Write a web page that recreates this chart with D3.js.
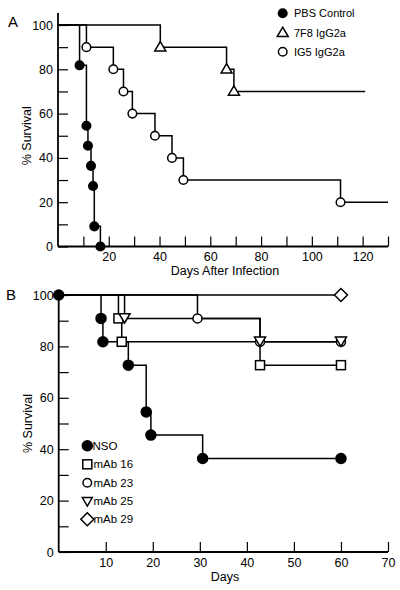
<!DOCTYPE html>
<html><head><meta charset="utf-8">
<script src="https://cdn.jsdelivr.net/npm/d3@7"></script>
<style>
html,body{margin:0;padding:0;background:#fff;}
svg{display:block;font-family:"Liberation Sans",Arial,Helvetica,sans-serif;}
</style></head>
<body>
<svg id="c" width="400" height="590"></svg>
<script>
// ---------- Panel A data ----------
const pbsDays = [8.5, 11.2, 11.8, 13, 13.8, 14.3, 16.7];
const pbsSurv = [81.8, 54.5, 45.5, 36.4, 27.3, 9.1, 0];
const f7Days = [40.3, 66.4, 69.3];
const f7Surv = [90, 80, 70];
const f7End = 121;
const ig5Days = [11.2, 21.8, 25.8, 29.3, 38.2, 44.9, 49.4, 111.3];
const ig5Surv = [90, 80, 70, 60, 50, 40, 30, 20];
const ig5End = 130;
const legendA = ["PBS Control", "7F8 IgG2a", "IG5 IgG2a"];
const xTicksA = [10,20,30,40,50,60,70,80,90,100,110,120,130];
const xLabelsA = [20,40,60,80,100,120];
const yTicks = [0,10,20,30,40,50,60,70,80,90,100];
const yLabels = [0,20,40,60,80,100];

// ---------- Panel B data ----------
const nsoDays = [0, 9, 9.4, 14.8, 18.6, 19.6, 30.6, 60];
const nsoSurv = [100, 90.9, 81.8, 72.7, 54.5, 45.5, 36.4, 36.4];
const m16Days = [12.7, 13.4, 42.8, 60];
const m16Surv = [90.9, 81.8, 72.7, 72.7];
const m23Days = [29.5, 42.8, 60];
const m23Surv = [90.9, 81.8, 81.8];
const m25Days = [14.0, 42.8, 60];
const m25Surv = [90.9, 81.8, 81.8];
const m29Days = [60];
const m29Surv = [100];
const legendB = ["NSO", "mAb 16", "mAb 23", "mAb 25", "mAb 29"];
const xTicksB = [10,20,30,40,50,60,70];

const svg = d3.select("#c");
const FONT = 12.5;

function marker(g, type, x, y, s) {
  // s = nominal size (diameter)
  let el;
  if (type === "fcircle" || type === "ocircle") {
    el = g.append("circle").attr("cx", x).attr("cy", y).attr("r", s/2);
  } else if (type === "square") {
    el = g.append("rect").attr("x", x - s/2).attr("y", y - s/2).attr("width", s).attr("height", s);
  } else if (type === "tri") {
    const h = s*0.85;
    el = g.append("path").attr("d", `M${x},${y-h*0.6}L${x+s/2},${y+h*0.4}L${x-s/2},${y+h*0.4}Z`);
  } else if (type === "dtri") {
    const h = s*0.85;
    el = g.append("path").attr("d", `M${x},${y+h*0.6}L${x+s/2},${y-h*0.4}L${x-s/2},${y-h*0.4}Z`);
  } else if (type === "diamond") {
    el = g.append("path").attr("d", `M${x},${y-s/2}L${x+s/2},${y}L${x},${y+s/2}L${x-s/2},${y}Z`);
  }
  el.attr("fill", type === "fcircle" ? "#000" : "#fff")
    .attr("stroke", "#000").attr("stroke-width", 1.5);
  return el;
}

function drawAxes(g, x, y, xTicks, xLabels, yTop) {
  const ax = d3.axisBottom(x).tickValues(xTicks).tickSizeInner(-10).tickSizeOuter(0).tickPadding(6)
    .tickFormat(d => xLabels.includes(d) ? d : "");
  const ay = d3.axisLeft(y).tickValues(yTicks).tickSizeInner(-10).tickSizeOuter(0).tickPadding(5)
    .tickFormat(d => yLabels.includes(d) ? d : "");
  const gx = g.append("g").attr("transform", `translate(0,${y(0)})`).call(ax);
  const gy = g.append("g").attr("transform", `translate(${x(0)},0)`).call(ay);
  [gx, gy].forEach(a => {
    a.selectAll("path.domain").attr("stroke-width", 1.8);
    a.selectAll(".tick line").attr("stroke-width", 1.2);
    a.selectAll("text").attr("font-size", FONT).attr("fill", "#000").attr("font-family", "Liberation Sans, Arial, sans-serif");
  });
  gx.select("path.domain").attr("d", `M${x.range()[0]},0H${x.range()[1]}`);
  gy.select("path.domain").attr("d", `M0,0V${yTop - y(0)}`).attr("transform", `translate(0,${y(0)})`);
}

function stepLine(g, x, y, days, surv, endDay) {
  const pts = [[0, 100]].concat(days.map((d, i) => [d, surv[i]]));
  if (endDay !== undefined) pts.push([endDay, surv[surv.length - 1]]);
  const line = d3.line().x(d => x(d[0])).y(d => y(d[1])).curve(d3.curveStepAfter);
  g.append("path").attr("d", line(pts)).attr("fill", "none").attr("stroke", "#000").attr("stroke-width", 1.5);
}

// ================= Panel A =================
const xA = d3.scaleLinear().domain([0, 130]).range([58, 388]);
const yA = d3.scaleLinear().domain([0, 100]).range([246.5, 25]);
const gA = svg.append("g");
drawAxes(gA, xA, yA, xTicksA, xLabelsA, 13);

stepLine(gA, xA, yA, f7Days, f7Surv, f7End);
stepLine(gA, xA, yA, ig5Days, ig5Surv, ig5End);
stepLine(gA, xA, yA, pbsDays, pbsSurv);

pbsDays.forEach((d, i) => marker(gA, "fcircle", xA(d), yA(pbsSurv[i]), 8.6));
ig5Days.forEach((d, i) => marker(gA, "ocircle", xA(d), yA(ig5Surv[i]), 8.6));
f7Days.forEach((d, i) => marker(gA, "tri", xA(d), yA(f7Surv[i]), 11));

gA.append("text").attr("x", 8).attr("y", 27).attr("font-size", 15).text("A");
gA.append("text").attr("x", 225).attr("y", 275).attr("text-anchor", "middle").attr("font-size", FONT).text("Days After Infection");
gA.append("text").attr("transform", `translate(31,${(yA(0)+yA(100))/2}) rotate(-90)`).attr("text-anchor", "middle")
  .attr("font-size", FONT).text("% Survival");

const legTypesA = ["fcircle", "tri", "ocircle"];
const legYA = [13.3, 32.8, 51.7];
legendA.forEach((t, i) => {
  marker(gA, legTypesA[i], 282.7, legYA[i], legTypesA[i] === "tri" ? 11 : 8.6);
  gA.append("text").attr("x", 294).attr("y", legYA[i]).attr("dy", "0.36em").attr("font-size", 11).text(t);
});

// ================= Panel B =================
const xB = d3.scaleLinear().domain([0, 70]).range([58.7, 388]);
const yB = d3.scaleLinear().domain([0, 100]).range([552, 295]);
const gB = svg.append("g");
drawAxes(gB, xB, yB, xTicksB, xTicksB, 295);

stepLine(gB, xB, yB, m29Days, m29Surv);
stepLine(gB, xB, yB, m23Days, m23Surv);
stepLine(gB, xB, yB, m25Days, m25Surv);
stepLine(gB, xB, yB, m16Days, m16Surv);
stepLine(gB, xB, yB, nsoDays.slice(1), nsoSurv.slice(1));

m29Days.forEach((d, i) => marker(gB, "diamond", xB(d), yB(m29Surv[i]), 13));
m16Days.forEach((d, i) => marker(gB, "square", xB(d), yB(m16Surv[i]), 9));
m23Days.forEach((d, i) => marker(gB, "ocircle", xB(d), yB(m23Surv[i]), 9));
m25Days.forEach((d, i) => marker(gB, "dtri", xB(d), yB(m25Surv[i]) - 1, 11));
nsoDays.forEach((d, i) => marker(gB, "fcircle", xB(d), yB(nsoSurv[i]), 10));

gB.append("text").attr("x", 6).attr("y", 300).attr("font-size", 15).text("B");
gB.append("text").attr("x", 225).attr("y", 581).attr("text-anchor", "middle").attr("font-size", FONT).text("Days");
gB.append("text").attr("transform", `translate(32,${(yB(0)+yB(100))/2}) rotate(-90)`).attr("text-anchor", "middle")
  .attr("font-size", FONT).text("% Survival");

const legTypesB = ["fcircle", "square", "ocircle", "dtri", "diamond"];
const legSizeB = [10, 9, 8.6, 10, 13];
const legYB = [445.7, 464.3, 482.7, 501, 519.3];
legendB.forEach((t, i) => {
  marker(gB, legTypesB[i], 87.3, legYB[i], legSizeB[i]);
  gB.append("text").attr("x", i === 0 ? 92.5 : 93.5).attr("y", legYB[i]).attr("dy", "0.36em").attr("font-size", 11.5).text(t);
});
</script>
</body></html>
